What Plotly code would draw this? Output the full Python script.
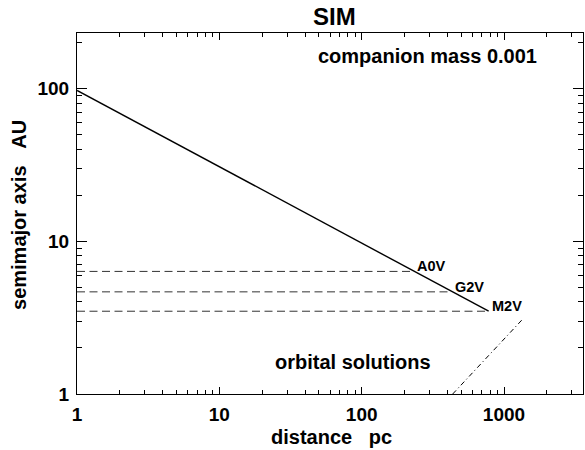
import numpy as np
import plotly.graph_objects as go

# ---- data ----
line_distance = [1, 780]          # pc
line_sma = [97, 3.48]             # AU
star_types = ["A0V", "G2V", "M2V"]
star_distance = [233, 431, 780]
star_sma = [6.34, 4.66, 3.48]
orbit_distance = [436, 1349]
orbit_sma = [1.0, 3.08]

x_major = [1, 10, 100, 1000]
x_labels = ["1", "10", "100", "1000"]
y_major = [1, 10, 100]
y_labels = ["1", "10", "100"]
x_minor = [m * d for d in [1, 10, 100, 1000] for m in range(2, 10)]
y_minor = [m * d for d in [1, 10, 100] for m in range(2, 10)]

FONT = "Liberation Sans, Arial, Helvetica, sans-serif"

fig = go.Figure()
fig.add_trace(go.Scatter(x=line_distance, y=line_sma, mode="lines",
                         line=dict(color="black", width=1.4), showlegend=False))
for d, a in zip(star_distance, star_sma):
    fig.add_trace(go.Scatter(x=[1, d], y=[a, a], mode="lines",
                             line=dict(color="#333", width=1, dash="8px,4.5px"),
                             showlegend=False))
fig.add_trace(go.Scatter(x=orbit_distance, y=orbit_sma, mode="lines",
                         line=dict(color="black", width=1, dash="5px,3px,1px,3px"),
                         showlegend=False))

for name, d, a in zip(star_types, star_distance, star_sma):
    fig.add_annotation(x=np.log10(d), y=np.log10(a), xref="x", yref="y",
                       text=name, showarrow=False, xanchor="left", yanchor="middle",
                       xshift=1, yshift=5,
                       font=dict(family=FONT, size=14.5, color="black", weight="bold"))

def ann(text, x, y, size, angle=0):
    fig.add_annotation(x=x, y=y, xref="paper", yref="paper", text=text,
                       showarrow=False, xanchor="center", yanchor="middle",
                       textangle=angle, borderpad=0,
                       font=dict(family=FONT, size=size, color="black", weight="bold"))

ann("SIM", 0.509, 1.0465, 24)
ann("companion mass 0.001", 0.693, 0.936, 20)
ann("orbital solutions", 0.546, 0.0886, 20)
ann("distance\u00a0\u00a0\u00a0pc", 0.503, -0.118, 20)
ann("semimajor axis\u00a0\u00a0\u00a0AU", -0.1158, 0.497, 20, angle=-90)

axis_common = dict(type="log", showgrid=False, zeroline=False, showline=True,
                   linecolor="black", linewidth=1, mirror="ticks", ticks="inside",
                   tickcolor="black", tickwidth=1,
                   tickfont=dict(family=FONT, size=19, color="black", weight="bold"))

fig.update_xaxes(**axis_common, range=[0, 3.555], tickmode="array",
                 tickvals=x_major, ticktext=x_labels, ticklen=7,
                 ticklabelstandoff=3,
                 minor=dict(tickmode="array", tickvals=x_minor, ticks="inside",
                            ticklen=3.6, tickcolor="black", tickwidth=1))
fig.update_yaxes(**axis_common, range=[0, 2.362], tickmode="array",
                 tickvals=y_major, ticktext=y_labels, ticklen=10,
                 ticklabelstandoff=3,
                 minor=dict(tickmode="array", tickvals=y_minor, ticks="inside",
                            ticklen=5, tickcolor="black", tickwidth=1))

fig.update_layout(width=585, height=450, autosize=False,
                  margin=dict(l=77, r=1, t=33, b=56),
                  paper_bgcolor="white", plot_bgcolor="white")

post = ("document.body.style.margin='0';document.body.style.overflow='hidden';"
        "var gd=document.getElementById('{plot_id}');"
        "Plotly.relayout(gd,{width:585,height:450});")
fig.write_html("out.html", config={"responsive": False, "displayModeBar": False},
               post_script=post)
